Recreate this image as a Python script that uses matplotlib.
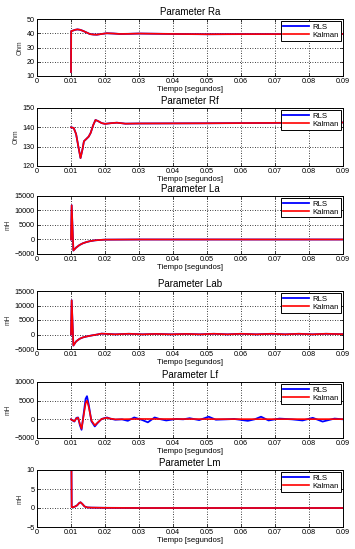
# parameter estimation: RLS vs Kalman
import matplotlib
matplotlib.use("Agg")
import matplotlib.pyplot as plt

# x axis
x_ticks = [0, 0.01, 0.02, 0.03, 0.04, 0.05, 0.06, 0.07, 0.08, 0.09]
x_tick_labels = ["0", "0.01", "0.02", "0.03", "0.04", "0.05", "0.06", "0.07", "0.08", "0.09"]

# Ra [Ohm]
ra_t = [0.0100, 0.01005, 0.0105, 0.0112, 0.0119, 0.0127, 0.0136, 0.0146, 0.0156, 0.0166,
        0.0176, 0.0190, 0.0205, 0.0225, 0.0244, 0.0270, 0.0300, 0.0400, 0.0500, 0.0600,
        0.0700, 0.0800, 0.0900]
ra_v = [12.8, 41.5, 41.8, 42.4, 42.7, 42.4, 41.6, 40.5, 39.4, 39.1,
        39.0, 39.5, 40.0, 39.8, 39.5, 39.6, 39.8, 39.5, 39.3, 39.4,
        39.4, 39.5, 39.5]

# Rf [Ohm]
rf_t = [0.0100, 0.0108, 0.0115, 0.0122, 0.0128, 0.0134, 0.0138, 0.0144, 0.0152, 0.0158,
        0.0165, 0.0172, 0.0180, 0.0190, 0.0200, 0.0220, 0.0235, 0.0260, 0.0300, 0.0500,
        0.0700, 0.0900]
rf_v = [140.0, 139.7, 136.5, 129.7, 124.1, 128.8, 132.8, 133.8, 135.2, 137.2,
        141.0, 143.8, 143.2, 142.2, 141.8, 142.2, 142.4, 141.9, 142.0, 142.1,
        142.3, 142.5]

# La [mH]
la_t = [0.0100, 0.0102, 0.0107, 0.0115, 0.0125, 0.0135, 0.0145, 0.0155, 0.0170, 0.0185,
        0.0200, 0.0300, 0.0400, 0.0900]
la_v = [0, 11800, -3800, -2800, -1900, -1300, -900, -600, -300, -150,
        -50, 0, 0, 0]

# Lab [mH]
lab_t = [0.0100, 0.0102, 0.0107, 0.0115, 0.0125, 0.0135, 0.0145, 0.0160, 0.0175, 0.0190,
         0.0230, 0.0270, 0.0310, 0.0350, 0.0395, 0.0440, 0.0480, 0.0520, 0.0560, 0.0600,
         0.0645, 0.0690, 0.0730, 0.0770, 0.0810, 0.0850, 0.0900]
lab_v = [0, 11800, -3800, -2400, -1500, -1000, -700, -350, -50, 300,
         50, 250, 50, 200, 50, 200, 50, 250, 50, 250,
         50, 250, 50, 250, 50, 250, 100]

# Lf [mH]
lf_t_rls = [0.0100, 0.0105, 0.0110, 0.0116, 0.0121, 0.0126, 0.0131, 0.0138, 0.0143, 0.0147,
            0.0152, 0.0160, 0.0170, 0.0178, 0.0190, 0.0206, 0.0215, 0.0230, 0.0250, 0.0267,
            0.0286, 0.0300, 0.0310, 0.0326, 0.0346, 0.0360, 0.0380, 0.0409, 0.0430, 0.0449,
            0.0477, 0.0505, 0.0526, 0.0556, 0.0580, 0.0620, 0.0640, 0.0659, 0.0681, 0.0713,
            0.0750, 0.0781, 0.0811, 0.0840, 0.0875, 0.0900]
lf_v_rls = [0, -300, -600, 400, 500, -1500, -2800, 2000, 5500, 6200,
            4000, -500, -1900, -1000, 100, 500, 200, -100, 0, -400,
            500, 100, -200, -800, 500, 100, -300, 100, 0, 300,
            -200, 700, -100, 0, 100, -400, 0, 700, -300, 200,
            0, -300, 400, -600, 200, 0]
lf_t_kal = [0.0100, 0.0105, 0.0110, 0.0116, 0.0121, 0.0126, 0.0131, 0.0138, 0.0143, 0.0147,
            0.0152, 0.0160, 0.0170, 0.0178, 0.0190, 0.0206, 0.0215, 0.0230, 0.0300, 0.0600,
            0.0900]
lf_v_kal = [0, -300, -500, 300, 400, -1200, -2500, 1500, 4300, 5000,
            3400, -300, -1600, -900, 100, 400, 200, 0, 100, 50,
            50]

# Lm [mH]
lm_t = [0.0100, 0.0102, 0.0110, 0.0118, 0.0124, 0.0128, 0.0133, 0.0140, 0.0148, 0.0160,
        0.0200, 0.0300, 0.0500, 0.0900]
lm_v = [30, 0.2, 0.3, 0.7, 1.3, 1.5, 1.1, 0.4, 0.15, 0.1,
        0.05, 0, 0, 0]

panels = [
    ("Parameter Ra", "Ohm", ra_t, ra_v, ra_t, ra_v, (10, 50), [10, 20, 30, 40, 50]),
    ("Parameter Rf", "Ohm", rf_t, rf_v, rf_t, rf_v, (120, 150), [120, 130, 140, 150]),
    ("Parameter La", "mH", la_t, la_v, la_t, la_v, (-5000, 15000), [-5000, 0, 5000, 10000, 15000]),
    ("Parameter Lab", "mH", lab_t, lab_v, lab_t, lab_v, (-5000, 15000), [-5000, 0, 5000, 10000, 15000]),
    ("Parameter Lf", "mH", lf_t_rls, lf_v_rls, lf_t_kal, lf_v_kal, (-5000, 10000), [-5000, 0, 5000, 10000]),
    ("Parameter Lm", "mH", lm_t, lm_v, lm_t, lm_v, (-5, 10), [-5, 0, 5, 10]),
]

# pixel rows of each axes (top, bottom)
rows = [(19, 76), (108, 166), (196, 254), (291, 349), (382, 438), (470, 527)]

plt.rcParams["font.family"] = ["Liberation Sans", "DejaVu Sans"]

W, H = 355, 549
fig = plt.figure(figsize=(W / 100, H / 100), dpi=100)
fig.patch.set_facecolor("white")

for (title, ylab, t1, v1, t2, v2, ylim, yt), (top, bot) in zip(panels, rows):
    ax = fig.add_axes([37 / W, 1 - bot / H, (343 - 37) / W, (bot - top) / H])
    ax.plot(t1, v1, color="#0000ff", lw=1.3, label="RLS")
    ax.plot(t2, v2, color="#ff0000", lw=1.2, label="Kalman")
    ax.set_xlim(0, 0.09)
    ax.set_ylim(*ylim)
    ax.set_xticks(x_ticks)
    ax.set_xticklabels(x_tick_labels)
    ax.set_yticks(yt)
    ax.tick_params(direction="in", length=2, width=0.5, labelsize=5.2, pad=1.5,
                   top=True, right=True)
    ax.grid(True, color="black", linestyle=(0, (1, 2)), linewidth=0.6)
    for s in ax.spines.values():
        s.set_linewidth(0.7)
    ax.set_title(title, fontsize=7, pad=3)
    ax.set_xlabel("Tiempo [segundos]", fontsize=5.6, labelpad=1)
    ax.set_ylabel(ylab, fontsize=4.8, labelpad=2, color="#333333")
    leg = ax.legend(loc="upper right", fontsize=5.6, frameon=True, fancybox=False,
                    handlelength=3.4, handletextpad=0.4, borderpad=0.25,
                    labelspacing=0.05, borderaxespad=0.3, framealpha=1)
    leg.get_frame().set_edgecolor("black")
    leg.get_frame().set_linewidth(0.7)

fig.savefig("out.png", dpi=100)
